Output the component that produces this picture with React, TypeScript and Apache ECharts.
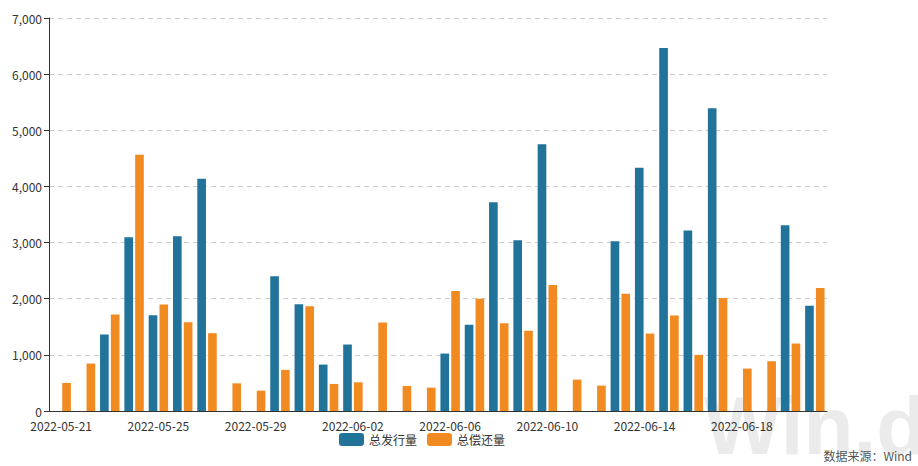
import React, { useEffect, useRef } from "react";
import * as echarts from "echarts";

const categories: string[] = [
  "2022-05-21", "2022-05-22", "2022-05-23", "2022-05-24", "2022-05-25", "2022-05-26", "2022-05-27", "2022-05-28",
  "2022-05-29", "2022-05-30", "2022-05-31", "2022-06-01", "2022-06-02", "2022-06-03", "2022-06-04", "2022-06-05",
  "2022-06-06", "2022-06-07", "2022-06-08", "2022-06-09", "2022-06-10", "2022-06-11", "2022-06-12", "2022-06-13",
  "2022-06-14", "2022-06-15", "2022-06-16", "2022-06-17", "2022-06-18", "2022-06-19", "2022-06-20", "2022-06-21",
];

const issuance: number[] = [
  0, 0, 1363, 3095, 1707, 3113, 4136, 0,
  0, 2398, 1900, 827, 1184, 0, 0, 0,
  1023, 1536, 3720, 3041, 4750, 0, 0, 3023,
  4332, 6464, 3214, 5393, 0, 0, 3309, 1875,
];

const repayment: number[] = [
  500, 845, 1720, 4565, 1898, 1582, 1386, 493,
  363, 732, 1868, 482, 511, 1577, 446, 416,
  2136, 2000, 1564, 1429, 2243, 559, 452, 2089,
  1380, 1702, 1000, 2011, 755, 886, 1202, 2189,
];

const seriesNames: string[] = ["总发行量", "总偿还量"];
const sourceText = "数据来源：Wind";
const watermarkText = "Win.d";

const FONT = "'Microsoft YaHei', 'Noto Sans CJK SC', 'Noto Sans', sans-serif";

export default function App() {
  const ref = useRef<HTMLDivElement>(null);
  useEffect(() => {
    if (!ref.current) return;
    const chart = echarts.init(ref.current, undefined, { renderer: "svg" });
    chart.setOption({
      animation: false,
      textStyle: { fontFamily: FONT },
      color: ["#22739a", "#f18b21"],
      grid: { left: 49, right: 91, top: 18, bottom: 55 },
      graphic: [
        {
          type: "text",
          left: 704,
          top: 384,
          z: -10,
          silent: true,
          style: {
            text: watermarkText,
            fontSize: 82,
            fontWeight: "bold",
            fontFamily: "'Liberation Sans', Arial, sans-serif",
            fill: "#ebebeb",
          },
        },
        {
          type: "text",
          right: 6,
          top: 449,
          style: {
            text: sourceText,
            fontSize: 12,
            fontFamily: FONT,
            fill: "#555",
          },
        },
      ],
      legend: {
        bottom: 15,
        left: 334,
        itemWidth: 25,
        itemHeight: 13,
        itemGap: 10,
        textStyle: { fontSize: 12, color: "#333", fontFamily: FONT },
        data: seriesNames,
      },
      xAxis: {
        type: "category",
        data: categories,
        axisLine: { lineStyle: { color: "#333" } },
        axisTick: {
          alignWithLabel: true,
          interval: (i: number) => i % 4 === 2,
          lineStyle: { color: "#333" },
          length: 5,
        },
        axisLabel: {
          interval: 3,
          color: "#333",
          fontSize: 12,
          margin: 8,
          fontFamily: FONT,
        },
      },
      yAxis: {
        type: "value",
        min: 0,
        max: 7000,
        interval: 1000,
        axisLine: { show: true, lineStyle: { color: "#333" } },
        axisTick: { show: true, length: 5, lineStyle: { color: "#333" } },
        axisLabel: {
          color: "#333",
          fontSize: 12,
          margin: 7,
          fontFamily: FONT,
          formatter: (v: number) => v.toLocaleString("en-US"),
        },
        splitLine: { lineStyle: { color: "#cccccc", type: [5, 4] } },
      },
      series: [
        {
          name: seriesNames[0],
          type: "bar",
          data: issuance,
          barGap: "25%",
          barCategoryGap: "20%",
        },
        {
          name: seriesNames[1],
          type: "bar",
          data: repayment,
        },
      ],
    });
    return () => chart.dispose();
  }, []);
  return <div ref={ref} style={{ width: 918, height: 466, position: "absolute", left: 0, top: 0 }} />;
}
